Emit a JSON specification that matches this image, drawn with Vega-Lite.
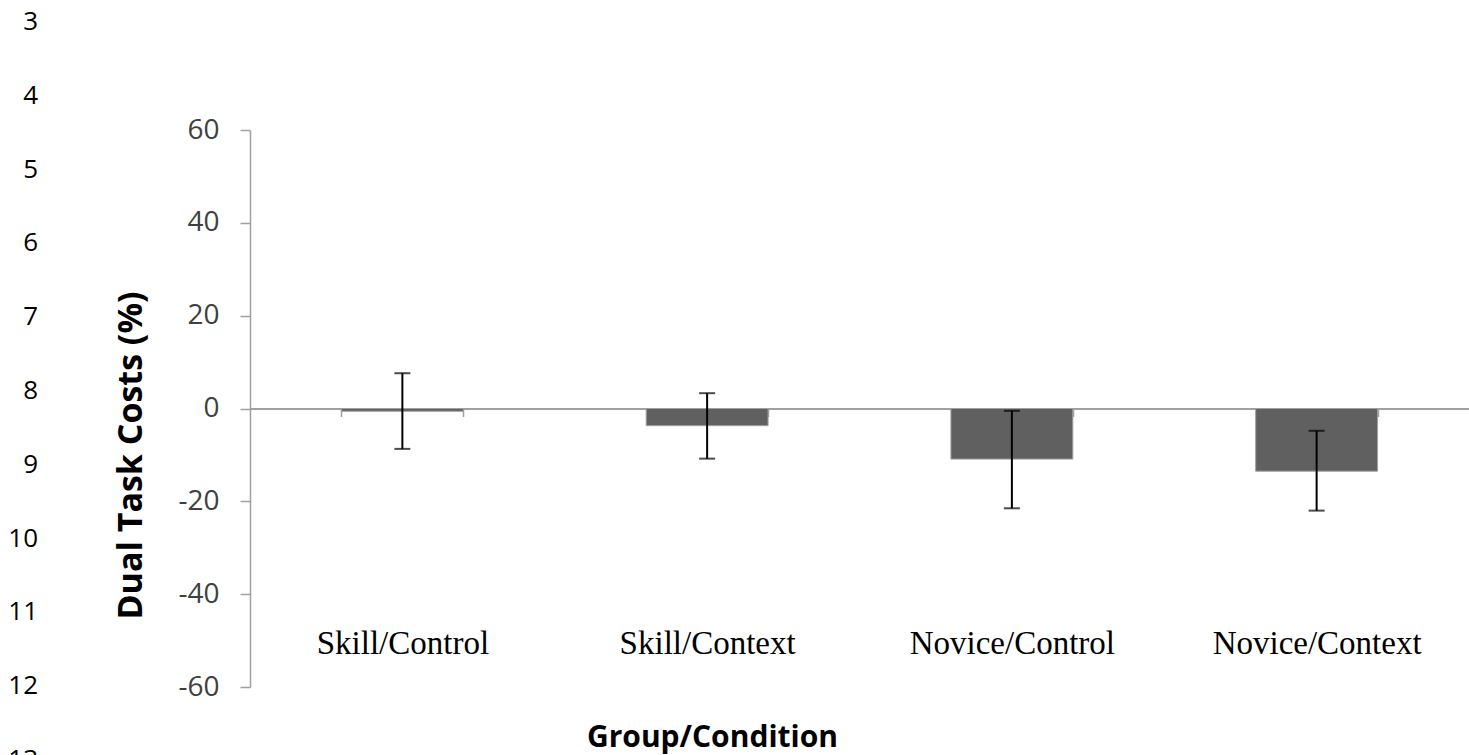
{
  "$schema": "https://vega.github.io/schema/vega-lite/v6.json",
  "padding": 0,
  "background": "white",
  "config": {"view": {"stroke": null}},
  "datasets": {
    "lines": [{"n": 3}, {"n": 4}, {"n": 5}, {"n": 6}, {"n": 7}, {"n": 8}, {"n": 9}, {"n": 10}, {"n": 11}, {"n": 12}, {"n": 13}],
    "bars": [
      {"cond": "Skill/Control", "mean": -0.6, "lo": -8.7, "hi": 7.6},
      {"cond": "Skill/Context", "mean": -3.7, "lo": -10.8, "hi": 3.3},
      {"cond": "Novice/Control", "mean": -10.9, "lo": -21.5, "hi": -0.5},
      {"cond": "Novice/Context", "mean": -13.5, "lo": -22.0, "hi": -4.8}
    ]
  },
  "spacing": 174,
  "bounds": "flush",
  "center": true,
  "hconcat": [
    {
      "width": 76,
      "height": 817,
      "data": {"name": "lines"},
      "mark": {"type": "text", "align": "right", "baseline": "middle", "font": "Open Sans", "fontSize": 26, "color": "black"},
      "encoding": {
        "y": {"field": "n", "type": "ordinal", "scale": {"type": "point", "domain": [3, 4, 5, 6, 7, 8, 9, 10, 11, 12, 13], "padding": 0.535, "align": 0.278}, "axis": null},
        "text": {"field": "n"}
      }
    },
    {
      "width": 1219,
      "height": 557,
      "data": {"name": "bars"},
      "encoding": {
        "x": {
          "field": "cond", "type": "nominal", "sort": null, "title": "Group/Condition",
          "scale": {"paddingInner": 0.6, "paddingOuter": 0.3},
          "axis": {
            "orient": "bottom", "offset": -278.5, "tickBand": "extent", "labelAngle": 0,
            "labelLimit": 0, "labelOverlap": false,
            "tickSize": 8, "tickColor": "#a0a0a0", "tickWidth": 1.5,
            "domainColor": "#a0a0a0", "domainWidth": 2,
            "labelFont": "Liberation Serif", "labelFontSize": 33, "labelColor": "black", "labelPadding": 211,
            "titleFont": "Open Sans", "titleFontSize": 30, "titleFontWeight": "bold", "titleColor": "black",
            "titleX": 462, "titleY": 338, "titleAlign": "center", "titleBaseline": "alphabetic"
          }
        }
      },
      "layer": [
        {
          "mark": {"type": "bar", "color": "#606060", "stroke": "#a0a0a0", "strokeWidth": 1},
          "encoding": {
            "y": {
              "field": "mean", "type": "quantitative", "title": "Dual Task Costs (%)",
              "scale": {"domain": [-60, 60], "nice": false, "zero": false},
              "axis": {
                "values": [-60, -40, -20, 0, 20, 40, 60], "grid": false, "labelExpr": "'' + datum.value",
                "domainColor": "#a0a0a0", "domainWidth": 1.5, "tickColor": "#a0a0a0", "tickSize": 10, "tickWidth": 1.5,
                "labelFont": "Open Sans", "labelFontSize": 28, "labelColor": "#404040", "labelPadding": 21,
                "titleFont": "Open Sans", "titleFontSize": 34, "titleFontWeight": "bold", "titleColor": "black",
                "titleX": -119, "titleY": 325, "titleAngle": -90, "titleAlign": "center", "titleBaseline": "middle"
              }
            }
          }
        },
        {
          "mark": {"type": "rule", "color": "black", "strokeWidth": 2},
          "encoding": {
            "y": {"field": "lo", "type": "quantitative", "title": "Dual Task Costs (%)"},
            "y2": {"field": "hi"}
          }
        },
        {
          "mark": {"type": "tick", "color": "black", "thickness": 2, "size": 16, "orient": "horizontal"},
          "encoding": {"y": {"field": "lo", "type": "quantitative", "title": "Dual Task Costs (%)"}}
        },
        {
          "mark": {"type": "tick", "color": "black", "thickness": 2, "size": 16, "orient": "horizontal"},
          "encoding": {"y": {"field": "hi", "type": "quantitative", "title": "Dual Task Costs (%)"}}
        }
      ]
    }
  ]
}
